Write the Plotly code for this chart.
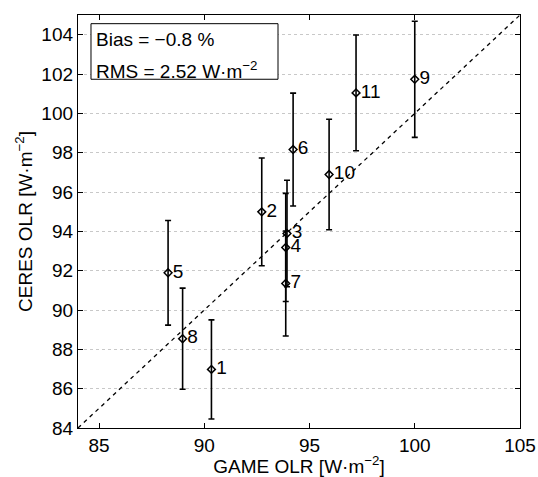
import plotly.graph_objects as go

labels = ["1", "2", "3", "4", "5", "6", "7", "8", "9", "10", "11"]
game_olr = [90.34, 92.73, 93.93, 93.87, 88.28, 94.22, 93.87, 88.97, 100.0, 95.93, 97.21]
ceres_olr = [86.98, 94.99, 93.89, 93.18, 91.89, 98.16, 91.35, 88.54, 101.73, 96.89, 101.04]
ceres_err = [2.52, 2.74, 2.71, 2.75, 2.66, 2.87, 2.67, 2.57, 2.95, 2.81, 2.94]
x_ticks = [85, 90, 95, 100, 105]
y_ticks = list(range(84, 105, 2))
axis_range = [84, 105]

FONT = "Liberation Sans, Arial, Helvetica, sans-serif"

fig = go.Figure()

fig.add_trace(go.Scatter(
    x=axis_range, y=axis_range, mode="lines",
    line=dict(color="black", width=1.3, dash="4px,4px"),
    hoverinfo="skip", showlegend=False,
))

fig.add_trace(go.Scatter(
    x=game_olr, y=ceres_olr, mode="markers+text",
    text=labels, textposition="middle right",
    textfont=dict(family=FONT, size=19, color="black"),
    marker=dict(symbol="diamond-open", size=6, color="black", line=dict(width=1.5, color="black")),
    error_y=dict(type="data", array=ceres_err, visible=True, color="black", thickness=1.6, width=3),
    showlegend=False,
))

fig.add_shape(type="rect", xref="paper", yref="paper",
              x0=0.0294, x1=0.4525, y0=0.8444, y1=0.979,
              line=dict(color="black", width=1), fillcolor="white", layer="above")
fig.add_annotation(xref="paper", yref="paper", x=0.036, y=0.941, xanchor="left", yanchor="middle",
                   text="Bias = \u22120.8 %", showarrow=False,
                   font=dict(family=FONT, size=19, color="black"))
fig.add_annotation(xref="paper", yref="paper", x=0.036, y=0.868, xanchor="left", yanchor="middle",
                   text="RMS = 2.52 W\u00b7m<sup>\u22122</sup>", showarrow=False,
                   font=dict(family=FONT, size=19, color="black"))

fig.update_layout(
    width=538, height=477,
    margin=dict(l=78, r=18, t=15, b=49),
    paper_bgcolor="white", plot_bgcolor="white",
    font=dict(family=FONT, size=19, color="black"),
    showlegend=False,
)
fig.update_xaxes(
    range=axis_range, tickvals=x_ticks, showgrid=False, zeroline=False, automargin=False,
    ticks="inside", ticklen=5, tickcolor="black", mirror="ticks",
    showline=True, linecolor="black", linewidth=1.3,
    tickfont=dict(family=FONT, size=19),
    title=dict(text="GAME OLR [W\u00b7m<sup>\u22122</sup>]", font=dict(family=FONT, size=19), standoff=3),
)
fig.update_yaxes(
    range=axis_range, tickvals=y_ticks, showgrid=True, gridcolor="#c8c8c8", griddash="dot", gridwidth=1,
    zeroline=False, automargin=False,
    ticks="inside", ticklen=5, tickcolor="black", mirror="ticks",
    showline=True, linecolor="black", linewidth=1.3,
    tickfont=dict(family=FONT, size=19),
    title=dict(text="CERES OLR [W\u00b7m<sup>\u22122</sup>]", font=dict(family=FONT, size=19), standoff=3),
)

fig.write_html("out.html")
